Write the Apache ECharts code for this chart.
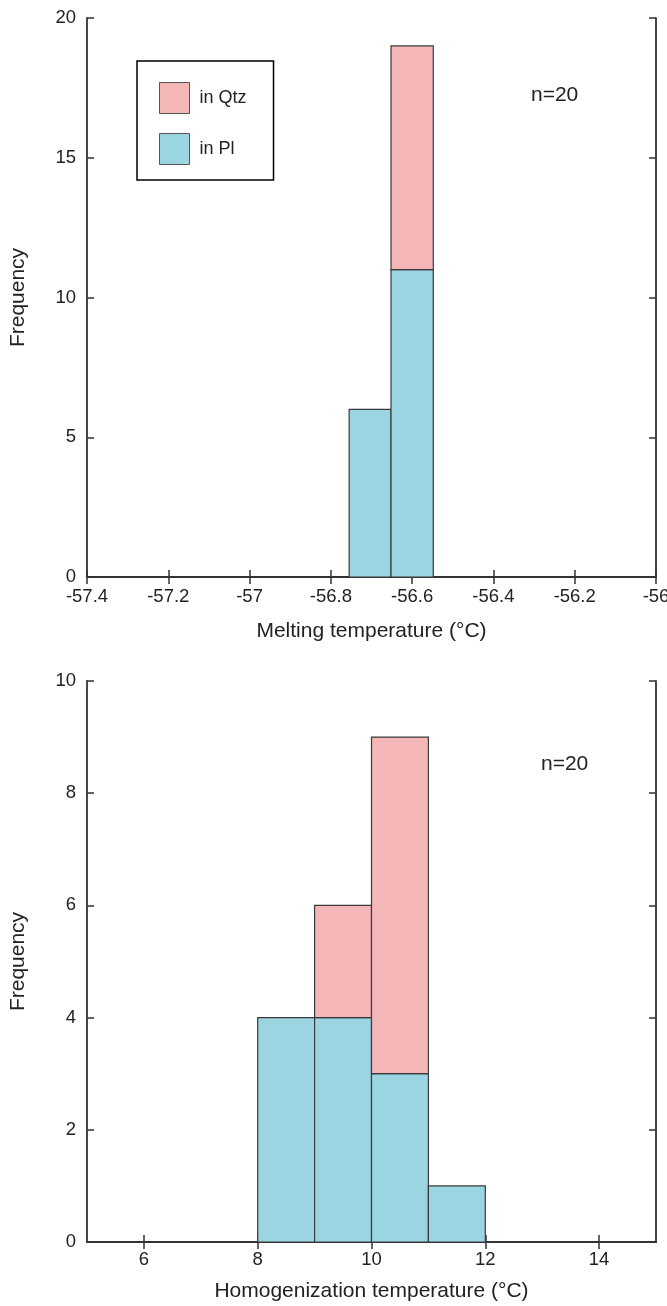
<!DOCTYPE html>
<html>
<head>
<meta charset="utf-8">
<script src="https://cdn.jsdelivr.net/npm/echarts@6/dist/echarts.min.js"></script>
<style>
  html, body { margin: 0; padding: 0; background: #fff; }
  #chart { width: 667px; height: 1306px; }
</style>
</head>
<body>
<div id="chart"></div>
<script>
// Melting temperature histogram (bin edges and counts per host mineral)
const meltEdges = [-56.755, -56.652, -56.548];
const meltPl = [6, 11];
const meltQtz = [0, 8];
const meltTicks = [-57.4, -57.2, -57, -56.8, -56.6, -56.4, -56.2, -56];

// Homogenization temperature histogram
const homEdges = [8, 9, 10, 11, 12];
const homPl = [4, 4, 3, 1];
const homQtz = [0, 2, 6, 0];
const homTicks = [6, 8, 10, 12, 14];

const seriesNames = ['in Qtz', 'in Pl'];
const colQtz = '#f5b6b8';
const colPl = '#9bd5e2';
const edgeCol = '#3a3a3a';
const axisCol = '#333';
const font = 'Liberation Sans, Arial, sans-serif';

// Turn bin edges + stacked counts into [x0, x1, y0, y1] rows
function bins(edges, base, vals) {
  const out = [];
  for (let i = 0; i < vals.length; i++) {
    if (vals[i] <= 0) continue;
    const b = base ? base[i] : 0;
    out.push([edges[i], edges[i + 1], b, b + vals[i]]);
  }
  return out;
}

function renderBin(params, api) {
  const p0 = api.coord([api.value(0), api.value(3)]);
  const p1 = api.coord([api.value(1), api.value(2)]);
  return {
    type: 'rect',
    shape: { x: p0[0], y: p0[1], width: p1[0] - p0[0], height: p1[1] - p0[1] },
    style: api.style({ stroke: edgeCol, lineWidth: 1.2 })
  };
}

const tickStyle = { show: true, inside: true, length: 7, lineStyle: { color: axisCol, width: 1.5 } };
const lineStyle = { show: true, lineStyle: { color: axisCol, width: 1.8 } };
const labelStyle = { color: '#222', fontSize: 18.5, fontFamily: font };
const titleStyle = { color: '#222', fontSize: 21, fontFamily: font };

function xAxes(gi, min, max, ticks, name, gap, margin) {
  return [
    {
      type: 'value', gridIndex: gi, min: min, max: max, position: 'bottom',
      axisLine: lineStyle, splitLine: { show: false },
      axisTick: Object.assign({ customValues: ticks }, tickStyle),
      axisLabel: Object.assign({ customValues: ticks, margin: margin }, labelStyle),
      name: name, nameLocation: 'middle', nameGap: gap, nameTextStyle: titleStyle
    },
    {
      type: 'value', gridIndex: gi, min: min, max: max, position: 'top',
      axisLine: lineStyle, splitLine: { show: false },
      axisTick: Object.assign({ customValues: ticks }, tickStyle),
      axisLabel: { show: false }
    }
  ];
}

function yAxes(gi, max, interval) {
  return [
    {
      type: 'value', gridIndex: gi, min: 0, max: max, interval: interval, position: 'left',
      axisLine: lineStyle, splitLine: { show: false }, axisTick: tickStyle,
      axisLabel: Object.assign({ margin: 11 }, labelStyle),
      name: 'Frequency', nameLocation: 'middle', nameGap: 58, nameTextStyle: titleStyle
    },
    {
      type: 'value', gridIndex: gi, min: 0, max: max, interval: interval, position: 'right',
      axisLine: lineStyle, splitLine: { show: false }, axisTick: tickStyle,
      axisLabel: { show: false }
    }
  ];
}

const chart = echarts.init(document.getElementById('chart'), null, { renderer: 'canvas' });

chart.setOption({
  animation: false,
  backgroundColor: '#fff',
  grid: [
    { left: 87, top: 18, width: 569, height: 559, outerBoundsMode: 'none', containLabel: false },
    { left: 87, top: 681, width: 569, height: 561, outerBoundsMode: 'none', containLabel: false }
  ],
  xAxis: [].concat(
    xAxes(0, -57.4, -56, meltTicks, 'Melting temperature (°C)', 44, 10),
    xAxes(1, 5, 15, homTicks, 'Homogenization temperature (°C)', 39, 8.5)
  ),
  yAxis: [].concat(yAxes(0, 20, 5), yAxes(1, 10, 2)),
  legend: {
    data: seriesNames,
    orient: 'vertical',
    left: 137, top: 61,
    icon: 'rect',
    itemWidth: 30, itemHeight: 31, itemGap: 19,
    padding: [21, 27, 15, 22],
    borderColor: '#000', borderWidth: 1.5, backgroundColor: '#fff',
    itemStyle: { borderColor: '#555', borderWidth: 1 },
    textStyle: { color: '#222', fontSize: 18, fontFamily: font, padding: [0, 0, 0, 5] }
  },
  graphic: [
    { type: 'text', left: 531, top: 85, style: { text: 'n=20', fill: '#222', fontSize: 21, fontFamily: font } },
    { type: 'text', left: 541, top: 754, style: { text: 'n=20', fill: '#222', fontSize: 21, fontFamily: font } }
  ],
  series: [
    {
      name: 'in Pl', type: 'custom', xAxisIndex: 0, yAxisIndex: 0,
      itemStyle: { color: colPl }, renderItem: renderBin,
      encode: { x: [0, 1], y: [2, 3] }, data: bins(meltEdges, null, meltPl)
    },
    {
      name: 'in Qtz', type: 'custom', xAxisIndex: 0, yAxisIndex: 0,
      itemStyle: { color: colQtz }, renderItem: renderBin,
      encode: { x: [0, 1], y: [2, 3] }, data: bins(meltEdges, meltPl, meltQtz)
    },
    {
      name: 'in Pl', type: 'custom', xAxisIndex: 2, yAxisIndex: 2,
      itemStyle: { color: colPl }, renderItem: renderBin,
      encode: { x: [0, 1], y: [2, 3] }, data: bins(homEdges, null, homPl)
    },
    {
      name: 'in Qtz', type: 'custom', xAxisIndex: 2, yAxisIndex: 2,
      itemStyle: { color: colQtz }, renderItem: renderBin,
      encode: { x: [0, 1], y: [2, 3] }, data: bins(homEdges, homPl, homQtz)
    }
  ]
});
</script>
</body>
</html>
